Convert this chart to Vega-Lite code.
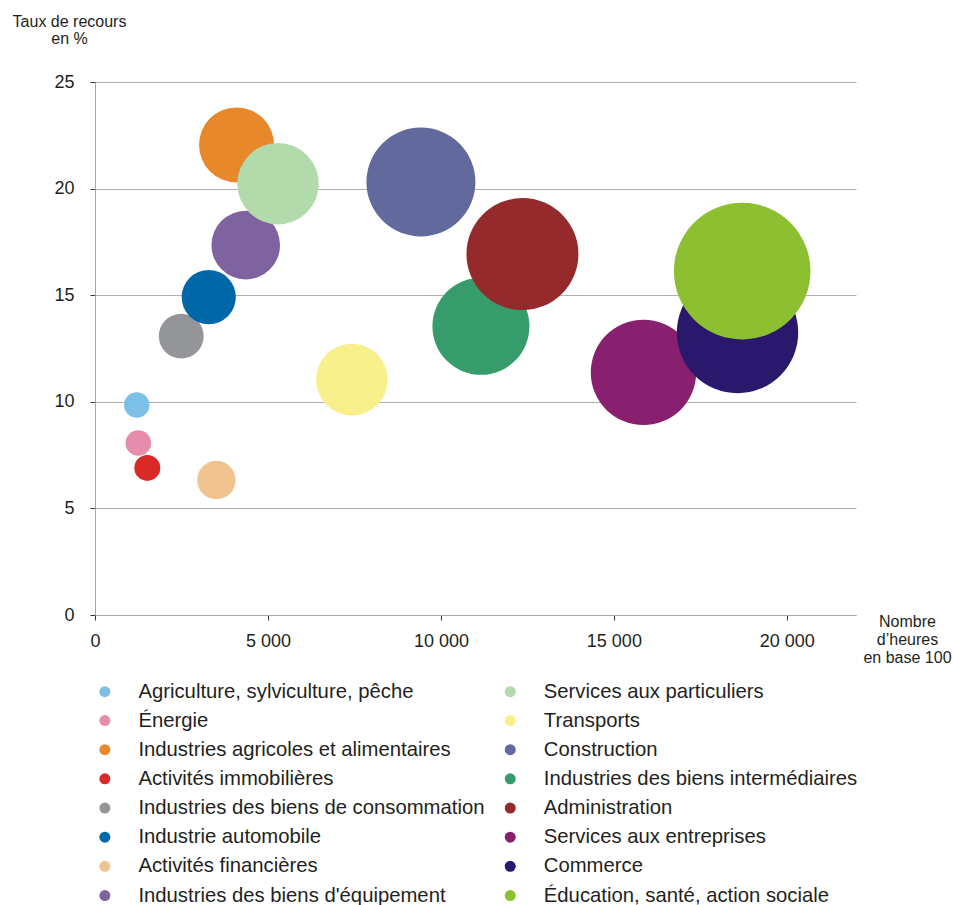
{
  "$schema": "https://vega.github.io/schema/vega-lite/v6.json",
  "width": 761,
  "height": 533,
  "autosize": {"type": "none"},
  "padding": {"left": 95, "top": 82, "right": 97, "bottom": 290},
  "background": "white",
  "config": {
    "view": {"stroke": null},
    "font": "Liberation Sans",
    "axis": {"labelFont": "Liberation Sans", "titleFont": "Liberation Sans"},
    "legend": {"labelFont": "Liberation Sans"}
  },
  "data": {
    "values": [
      {"secteur": "Agriculture, sylviculture, pêche", "heures": 1206, "taux": 9.85, "poids": 161},
      {"secteur": "Énergie", "heures": 1252, "taux": 8.07, "poids": 164},
      {"secteur": "Industries agricoles et alimentaires", "heures": 4092, "taux": 22.05, "poids": 1406},
      {"secteur": "Activités immobilières", "heures": 1512, "taux": 6.9, "poids": 169},
      {"secteur": "Industries des biens de consommation", "heures": 2493, "taux": 13.08, "poids": 502},
      {"secteur": "Industrie automobile", "heures": 3288, "taux": 14.91, "poids": 734},
      {"secteur": "Activités financières", "heures": 3508, "taux": 6.33, "poids": 369},
      {"secteur": "Industries des biens d'équipement", "heures": 4358, "taux": 17.35, "poids": 1176},
      {"secteur": "Services aux particuliers", "heures": 5292, "taux": 20.23, "poids": 1656},
      {"secteur": "Transports", "heures": 7426, "taux": 11.04, "poids": 1282},
      {"secteur": "Construction", "heures": 9422, "taux": 20.31, "poids": 2970},
      {"secteur": "Industries des biens intermédiaires", "heures": 11157, "taux": 13.54, "poids": 2352},
      {"secteur": "Administration", "heures": 12357, "taux": 16.93, "poids": 3136},
      {"secteur": "Services aux entreprises", "heures": 15856, "taux": 11.38, "poids": 2777},
      {"secteur": "Commerce", "heures": 18575, "taux": 13.25, "poids": 3684},
      {"secteur": "Éducation, santé, action sociale", "heures": 18710, "taux": 16.13, "poids": 4665}
    ]
  },
  "mark": {"type": "point", "filled": true, "opacity": 1, "shape": "circle", "strokeWidth": 0},
  "encoding": {
    "x": {
      "field": "heures",
      "type": "quantitative",
      "scale": {"domain": [0, 22000], "nice": false, "zero": true},
      "axis": {
        "values": [0, 5000, 10000, 15000, 20000],
        "grid": false,
        "domainColor": "#A6A6A6",
        "tickColor": "#333333",
        "tickSize": 5,
        "labelFontSize": 18,
        "labelColor": "#231F20",
        "labelPadding": 12,
        "labelFlush": false,
        "labelExpr": "replace(format(datum.value, ',d'), ',', ' ')",
        "title": ["Nombre", "d’heures", "en base 100"],
        "titleFontSize": 16,
        "titleFontWeight": "normal",
        "titleColor": "#231F20",
        "titleAlign": "center",
        "titleBaseline": "top",
        "titleAngle": 0,
        "titleX": 812,
        "titleY": -2,
        "titleLineHeight": 18
      }
    },
    "y": {
      "field": "taux",
      "type": "quantitative",
      "scale": {"domain": [0, 25], "nice": false},
      "axis": {
        "values": [0, 5, 10, 15, 20, 25],
        "grid": true,
        "gridColor": "#B0B0B0",
        "domainColor": "#A6A6A6",
        "tickColor": "#333333",
        "tickSize": 5,
        "labelFontSize": 18,
        "labelColor": "#231F20",
        "labelPadding": 16,
        "labelFlush": false,
        "title": ["Taux de recours", "en %"],
        "titleFontSize": 16,
        "titleFontWeight": "normal",
        "titleColor": "#231F20",
        "titleAlign": "center",
        "titleBaseline": "top",
        "titleAngle": 0,
        "titleX": -26,
        "titleY": -69,
        "titleLineHeight": 17.7
      }
    },
    "size": {
      "field": "poids",
      "type": "quantitative",
      "scale": {"domain": [0, 4900], "range": [0, 19600]},
      "legend": null
    },
    "color": {
      "field": "secteur",
      "type": "nominal",
      "scale": {
        "domain": [
          "Agriculture, sylviculture, pêche",
          "Énergie",
          "Industries agricoles et alimentaires",
          "Activités immobilières",
          "Industries des biens de consommation",
          "Industrie automobile",
          "Activités financières",
          "Industries des biens d'équipement",
          "Services aux particuliers",
          "Transports",
          "Construction",
          "Industries des biens intermédiaires",
          "Administration",
          "Services aux entreprises",
          "Commerce",
          "Éducation, santé, action sociale"
        ],
        "range": [
          "#7CC0E8", "#E68DAE", "#E8882B", "#DA2A27",
          "#939598", "#0068A8", "#F1C38F", "#7F63A0",
          "#B3DAAB", "#F7F08B", "#62699D", "#379C6B",
          "#952A2C", "#88206F", "#29186B", "#8CC031"
        ]
      },
      "legend": {
        "title": null,
        "orient": "none",
        "legendX": -0.3,
        "legendY": 599.2,
        "columns": 2,
        "padding": 0,
        "symbolType": "circle",
        "symbolSize": 121,
        "symbolOpacity": 1,
        "symbolStrokeWidth": 0,
        "labelFontSize": 20.3,
        "labelColor": "#231F20",
        "labelOffset": 23.4,
        "labelLimit": 0,
        "columnPadding": 15.4,
        "rowPadding": 8.17
      }
    }
  }
}
